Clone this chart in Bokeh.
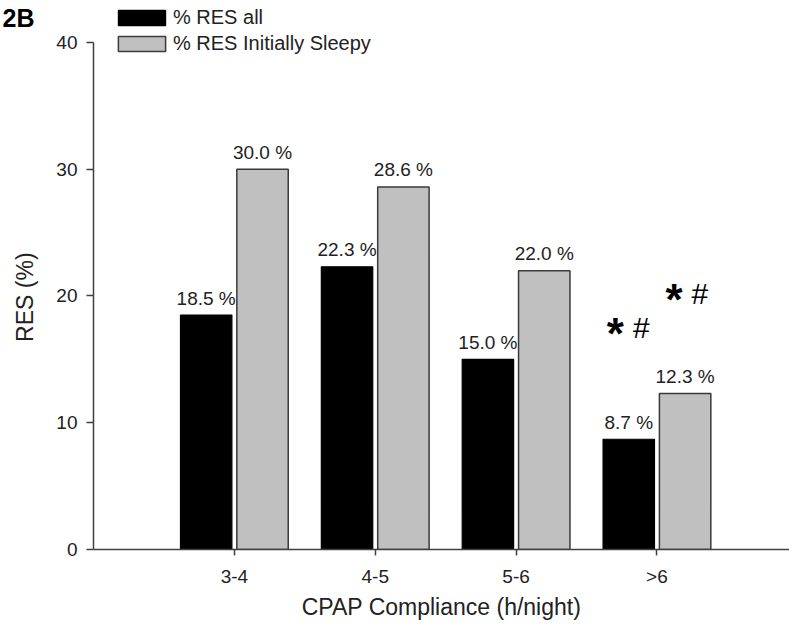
from bokeh.plotting import figure
from bokeh.models import ColumnDataSource, FixedTicker, Legend, LegendItem, Range1d
from bokeh.core.properties import value
from bokeh.embed import file_html
from bokeh.resources import INLINE

# ---- data ----
categories = ["3-4", "4-5", "5-6", ">6"]
res_all = [18.5, 22.3, 15.0, 8.7]
res_sleepy = [30.0, 28.6, 22.0, 12.3]
series_names = ["% RES all", "% RES Initially Sleepy"]
y_ticks = [0, 10, 20, 30, 40]
sig_x = [3.797, 4.213]
sig_y = [17.48, 20.16]
panel_tag = "2B"
x_title = "CPAP Compliance (h/night)"
y_title = "RES (%)"

FONT = "Liberation Sans"
TXT = "#222222"
GRAY = "#c0c0c0"

cat_pos = list(range(1, len(categories) + 1))
off = 0.2
bw = 0.365

src_all = ColumnDataSource(dict(
    x=[c - off for c in cat_pos], top=res_all,
    lab=["%.1f %%" % v for v in res_all]))
src_sl = ColumnDataSource(dict(
    x=[c + off for c in cat_pos], top=res_sleepy,
    lab=["%.1f %%" % v for v in res_sleepy]))

p = figure(width=789, height=625, output_backend="svg", toolbar_location=None,
           x_range=Range1d(0, 4.941), y_range=Range1d(0, 42.84),
           min_border_left=93, min_border_right=0, min_border_top=6,
           min_border_bottom=76)
p.outline_line_color = None
p.xgrid.visible = False
p.ygrid.visible = False
p.background_fill_color = "white"
p.border_fill_color = "white"

# panel tag as title, pulled to the far left
p.title.text = panel_tag
p.title.align = "left"
p.title.offset = -91
p.title.text_font = FONT
p.title.text_font_size = "25px"
p.title.text_font_style = "bold"
p.title.text_color = "black"
p.title.vertical_align = "bottom"
try:
    p.title.standoff = -50
except Exception:
    pass

r1 = p.vbar(x="x", top="top", width=bw, source=src_all, fill_color="black",
            line_color="black", line_width=1.2)
r2 = p.vbar(x="x", top="top", width=bw, source=src_sl, fill_color=GRAY,
            line_color="#3a3a3a", line_width=1.5)

for s in (src_all, src_sl):
    p.text(x="x", y="top", text="lab", source=s, text_align="center",
           text_baseline="alphabetic", y_offset=-17, text_color=TXT,
           text_font=value(FONT), text_font_size="19px")

# significance markers
p.text(x=sig_x, y=sig_y, text=["*"] * len(sig_x), x_offset=-13, y_offset=6,
       text_align="center", text_baseline="middle", text_color="black",
       text_font=value(FONT), text_font_style="bold", text_font_size="44px")
p.text(x=sig_x, y=sig_y, text=["#"] * len(sig_x), x_offset=13, y_offset=0,
       text_align="center", text_baseline="middle", text_color="black",
       text_font=value(FONT), text_font_size="30px")

# axes
xa = p.xaxis[0]
xa.ticker = FixedTicker(ticks=cat_pos)
xa.major_label_overrides = {c: l for c, l in zip(cat_pos, categories)}
xa.minor_tick_line_color = None
xa.major_tick_in = 0
xa.major_tick_out = 6
xa.major_label_standoff = 10
xa.axis_label = x_title
xa.axis_label_standoff = 4
ya = p.yaxis[0]
ya.ticker = FixedTicker(ticks=y_ticks)
ya.bounds = (0, 40)
ya.minor_tick_line_color = None
ya.major_tick_in = 0
ya.major_tick_out = 7
ya.major_label_standoff = 9
# trailing no-break spaces centre the visible title on the 0-40 axis span
ya.axis_label = y_title + "\u00a0" * 6
ya.axis_label_standoff = 15
for a in (xa, ya):
    a.axis_line_color = "#404040"
    a.axis_line_width = 1.5
    a.major_tick_line_color = "#404040"
    a.major_tick_line_width = 1.5
    a.major_label_text_font = FONT
    a.major_label_text_font_size = "19px"
    a.major_label_text_color = TXT
    a.axis_label_text_font = FONT
    a.axis_label_text_font_size = "23px"
    a.axis_label_text_font_style = "normal"
    a.axis_label_text_color = TXT

legend = Legend(items=[LegendItem(label=series_names[0], renderers=[r1]),
                       LegendItem(label=series_names[1], renderers=[r2])],
                location=(19, 494), orientation="vertical",
                glyph_width=59, glyph_height=19, label_height=22,
                label_standoff=2, spacing=3, padding=0, margin=0,
                border_line_color=None, background_fill_alpha=0,
                label_text_font=FONT, label_text_font_size="20px",
                label_text_color=TXT)
p.add_layout(legend)

open("out.html", "w").write(file_html(p, INLINE))
